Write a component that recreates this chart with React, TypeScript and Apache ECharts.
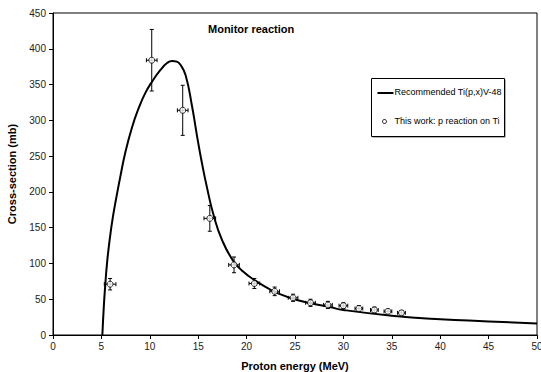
import React, { useEffect, useRef } from "react";
import * as echarts from "echarts";

const curveX = [5.1, 5.25, 5.4, 5.6, 5.9, 6.2, 6.5, 6.95, 7.47, 8.16, 8.85, 9.53, 10.23, 11.08, 11.78, 12.3, 12.8, 13.15, 13.7, 14.36, 14.88, 15.39, 15.91, 16.6, 17.46, 18.6, 19.7, 20.9, 22.0, 23.1, 25.2, 28.6, 30, 35, 40, 45, 50];
const curveY = [0, 40, 70, 103, 138, 166, 189, 221, 255, 290, 317, 338, 354, 370, 380, 383, 382, 378, 363, 320, 278, 240, 206, 167, 133, 104, 88, 76, 67, 59, 49, 39, 35, 27, 22, 19, 16];

const expX = [5.9, 10.2, 13.4, 16.2, 18.7, 20.8, 22.9, 24.8, 26.6, 28.4, 30.0, 31.6, 33.2, 34.6, 36.0];
const expY = [71, 384, 314, 163, 98, 72, 61, 52, 45, 42, 41, 37, 35, 33, 31];
const expXErr = [0.6, 0.55, 0.55, 0.6, 0.55, 0.55, 0.5, 0.5, 0.5, 0.45, 0.45, 0.4, 0.4, 0.4, 0.4];
const expYErr = [8, 43, 35, 18, 11, 7, 6, 5, 5, 5, 4, 4, 4, 3, 3];

const xTicks = { min: 0, max: 50, interval: 5 };
const yTicks = { min: 0, max: 450, interval: 50 };

const FONT = "Liberation Sans, Arial, sans-serif";

export default function App() {
  const ref = useRef<HTMLDivElement>(null);
  useEffect(() => {
    if (!ref.current) return;
    const chart = echarts.init(ref.current, undefined, { renderer: "svg" });
    const curve = curveX.map((x, i) => [x, curveY[i]]);
    const exp = expX.map((x, i) => [x, expY[i], expXErr[i], expYErr[i]]);
    chart.setOption({
      animation: false,
      textStyle: { fontFamily: FONT },
      grid: {
        left: 53, right: 4, top: 13, bottom: 37,
        outerBoundsMode: "none",
        containLabel: false,
        show: true, borderColor: "#000", borderWidth: 1,
      },
      xAxis: {
        type: "value",
        min: xTicks.min,
        max: xTicks.max,
        interval: xTicks.interval,
        name: "Proton energy (MeV)",
        nameLocation: "middle",
        nameGap: 25,
        nameTextStyle: { fontWeight: "bold", fontSize: 11, color: "#000", fontFamily: FONT },
        axisLine: { lineStyle: { color: "#000", width: 1 } },
        axisTick: { lineStyle: { color: "#000" }, length: 4 },
        axisLabel: { color: "#222", fontSize: 10, fontFamily: FONT, margin: 6 },
        splitLine: { show: false },
      },
      yAxis: {
        type: "value",
        min: yTicks.min,
        max: yTicks.max,
        interval: yTicks.interval,
        name: "Cross-section (mb)",
        nameLocation: "middle",
        nameGap: 36,
        nameTextStyle: { fontWeight: "bold", fontSize: 11, color: "#000", fontFamily: FONT },
        axisLine: { show: true, lineStyle: { color: "#000", width: 1 } },
        axisTick: { show: true, lineStyle: { color: "#000" }, length: 4 },
        axisLabel: { color: "#222", fontSize: 10, fontFamily: FONT, margin: 7 },
        splitLine: { show: false },
      },
      series: [
        {
          name: "Recommended Ti(p,x)V-48",
          type: "line",
          data: curve,
          smooth: 0.5,
          showSymbol: false,
          lineStyle: { color: "#000", width: 2 },
          z: 2,
        },
        {
          name: "errors",
          type: "custom",
          data: exp,
          z: 3,
          renderItem: (params: any, api: any) => {
            const x = api.value(0);
            const y = api.value(1);
            const dx = api.value(2);
            const dy = api.value(3);
            const top = api.coord([x, y + dy]);
            const bot = api.coord([x, y - dy]);
            const lft = api.coord([x - dx, y]);
            const rgt = api.coord([x + dx, y]);
            const c = 2;
            const st = { stroke: "#000", lineWidth: 1 };
            return {
              type: "group",
              children: [
                { type: "line", shape: { x1: top[0], y1: top[1], x2: bot[0], y2: bot[1] }, style: st },
                { type: "line", shape: { x1: top[0] - c, y1: top[1], x2: top[0] + c, y2: top[1] }, style: st },
                { type: "line", shape: { x1: bot[0] - c, y1: bot[1], x2: bot[0] + c, y2: bot[1] }, style: st },
                { type: "line", shape: { x1: lft[0], y1: lft[1], x2: rgt[0], y2: rgt[1] }, style: st },
                { type: "line", shape: { x1: lft[0], y1: lft[1] - c, x2: lft[0], y2: lft[1] + c }, style: st },
                { type: "line", shape: { x1: rgt[0], y1: rgt[1] - c, x2: rgt[0], y2: rgt[1] + c }, style: st },
              ],
            };
          },
        },
        {
          name: "This work: p reaction on Ti",
          type: "scatter",
          data: exp.map((d) => [d[0], d[1]]),
          symbol: "circle",
          symbolSize: 6,
          itemStyle: { color: "#fff", borderColor: "#000", borderWidth: 1 },
          z: 4,
        },
      ],
      graphic: [
        {
          type: "text",
          left: 208,
          top: 23,
          style: { text: "Monitor reaction", font: `bold 11px ${FONT}`, fill: "#000" },
        },
        {
          type: "group",
          left: 371,
          top: 78,
          children: [
            { type: "rect", shape: { x: 1, y: 1, width: 133, height: 58 }, style: { fill: "#666" } },
            { type: "rect", shape: { x: 0, y: 0, width: 133, height: 58 }, style: { fill: "#fff", stroke: "#000", lineWidth: 1 } },
            { type: "line", shape: { x1: 6, y1: 14.5, x2: 22, y2: 14.5 }, style: { stroke: "#000", lineWidth: 2 } },
            { type: "text", x: 23, y: 9, style: { text: "Recommended Ti(p,x)V-48", font: `9px ${FONT}`, fill: "#000" } },
            { type: "circle", shape: { cx: 13, cy: 43, r: 2 }, style: { fill: "#fff", stroke: "#000", lineWidth: 1 } },
            { type: "text", x: 23, y: 38, style: { text: "This work: p reaction on Ti", font: `9px ${FONT}`, fill: "#000" } },
          ],
        },
      ],
    });
    return () => chart.dispose();
  }, []);
  return <div ref={ref} style={{ position: "absolute", left: 0, top: 0, width: 541, height: 372 }} />;
}
